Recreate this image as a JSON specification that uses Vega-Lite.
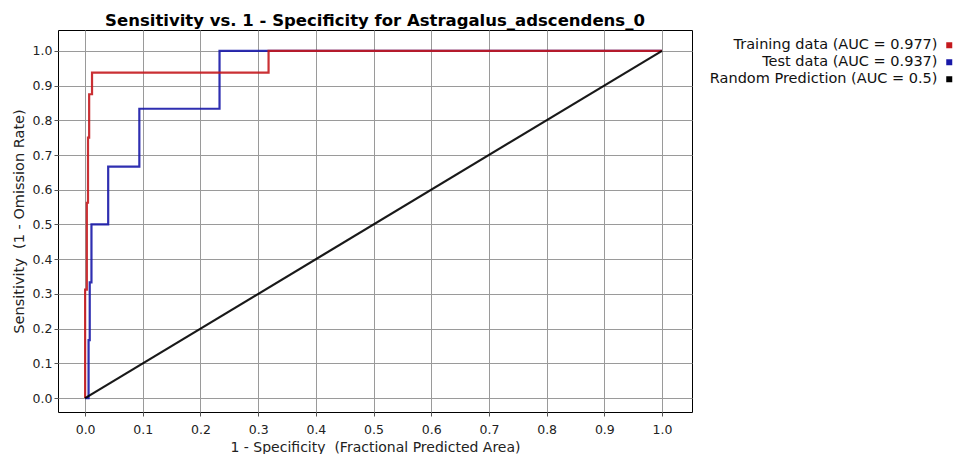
{
  "$schema": "https://vega.github.io/schema/vega-lite/v6.json",
  "width": 634,
  "height": 382,
  "autosize": {"type": "none"},
  "padding": {"left": 58, "top": 30, "right": 270, "bottom": 42},
  "background": "white",
  "title": {
    "text": "Sensitivity vs. 1 - Specificity for Astragalus_adscendens_0",
    "font": "DejaVu Sans",
    "fontSize": 16.5,
    "fontWeight": "bold",
    "color": "#000000",
    "offset": 1,
    "anchor": "middle"
  },
  "config": {
    "view": {"stroke": "#000000", "strokeWidth": 1},
    "axis": {
      "labelFont": "DejaVu Sans",
      "titleFont": "DejaVu Sans",
      "labelFontSize": 12.5,
      "titleFontSize": 14,
      "labelColor": "#222222",
      "titleColor": "#222222",
      "titleFontWeight": "normal",
      "gridColor": "#9a9a9a",
      "gridOpacity": 1,
      "gridWidth": 1,
      "tickColor": "#555555",
      "tickSize": 4,
      "domain": false
    }
  },
  "data": {
    "values": [
      {"series": "Test data (AUC = 0.937)", "ord": 1, "x": 0, "y": 0},
      {"series": "Test data (AUC = 0.937)", "ord": 2, "x": 0.006, "y": 0},
      {"series": "Test data (AUC = 0.937)", "ord": 3, "x": 0.006, "y": 0.1667},
      {"series": "Test data (AUC = 0.937)", "ord": 4, "x": 0.008, "y": 0.1667},
      {"series": "Test data (AUC = 0.937)", "ord": 5, "x": 0.008, "y": 0.3333},
      {"series": "Test data (AUC = 0.937)", "ord": 6, "x": 0.011, "y": 0.3333},
      {"series": "Test data (AUC = 0.937)", "ord": 7, "x": 0.011, "y": 0.5},
      {"series": "Test data (AUC = 0.937)", "ord": 8, "x": 0.04, "y": 0.5},
      {"series": "Test data (AUC = 0.937)", "ord": 9, "x": 0.04, "y": 0.6667},
      {"series": "Test data (AUC = 0.937)", "ord": 10, "x": 0.094, "y": 0.6667},
      {"series": "Test data (AUC = 0.937)", "ord": 11, "x": 0.094, "y": 0.8333},
      {"series": "Test data (AUC = 0.937)", "ord": 12, "x": 0.233, "y": 0.8333},
      {"series": "Test data (AUC = 0.937)", "ord": 13, "x": 0.233, "y": 1},
      {"series": "Test data (AUC = 0.937)", "ord": 14, "x": 1, "y": 1},
      {"series": "Training data (AUC = 0.977)", "ord": 1, "x": 0, "y": 0},
      {"series": "Training data (AUC = 0.977)", "ord": 2, "x": 0, "y": 0.3125},
      {"series": "Training data (AUC = 0.977)", "ord": 3, "x": 0.003, "y": 0.3125},
      {"series": "Training data (AUC = 0.977)", "ord": 4, "x": 0.003, "y": 0.5625},
      {"series": "Training data (AUC = 0.977)", "ord": 5, "x": 0.005, "y": 0.5625},
      {"series": "Training data (AUC = 0.977)", "ord": 6, "x": 0.005, "y": 0.75},
      {"series": "Training data (AUC = 0.977)", "ord": 7, "x": 0.007, "y": 0.75},
      {"series": "Training data (AUC = 0.977)", "ord": 8, "x": 0.007, "y": 0.875},
      {"series": "Training data (AUC = 0.977)", "ord": 9, "x": 0.012, "y": 0.875},
      {"series": "Training data (AUC = 0.977)", "ord": 10, "x": 0.012, "y": 0.9375},
      {"series": "Training data (AUC = 0.977)", "ord": 11, "x": 0.318, "y": 0.9375},
      {"series": "Training data (AUC = 0.977)", "ord": 12, "x": 0.318, "y": 1},
      {"series": "Training data (AUC = 0.977)", "ord": 13, "x": 1, "y": 1},
      {"series": "Random Prediction (AUC = 0.5)", "ord": 1, "x": 0, "y": 0},
      {"series": "Random Prediction (AUC = 0.5)", "ord": 2, "x": 1, "y": 1}
    ]
  },
  "mark": {"type": "line", "strokeWidth": 2.2, "opacity": 0.9, "strokeJoin": "miter"},
  "encoding": {
    "x": {
      "field": "x",
      "type": "quantitative",
      "scale": {"domain": [-0.047, 1.052], "nice": false, "zero": false},
      "axis": {
        "values": [0, 0.1, 0.2, 0.3, 0.4, 0.5, 0.6, 0.7, 0.8, 0.9, 1.0],
        "format": ".1f",
        "title": "1 - Specificity \u00a0(Fractional Predicted Area)",
        "labelPadding": 7,
        "titlePadding": 5
      }
    },
    "y": {
      "field": "y",
      "type": "quantitative",
      "scale": {"domain": [-0.04, 1.06], "nice": false, "zero": false},
      "axis": {
        "values": [0, 0.1, 0.2, 0.3, 0.4, 0.5, 0.6, 0.7, 0.8, 0.9, 1.0],
        "format": ".1f",
        "title": "Sensitivity \u00a0(1 - Omission Rate)",
        "titleFontSize": 14.5,
        "labelPadding": 2,
        "titlePadding": 6
      }
    },
    "order": {"field": "ord", "type": "quantitative"},
    "color": {
      "field": "series",
      "type": "nominal",
      "scale": {
        "domain": ["Training data (AUC = 0.977)", "Test data (AUC = 0.937)", "Random Prediction (AUC = 0.5)"],
        "range": ["#c41a1e", "#1818a8", "#000000"]
      },
      "legend": {
        "title": null,
        "orient": "none",
        "legendX": 636,
        "legendY": 8,
        "symbolType": "square",
        "symbolSize": 16,
        "symbolStrokeWidth": 2,
        "symbolOpacity": 1,
        "symbolOffset": 248,
        "labelAlign": "right",
        "labelOffset": -19,
        "labelFont": "DejaVu Sans",
        "labelFontSize": 14.5,
        "labelColor": "#111111",
        "labelLimit": 300,
        "rowPadding": 2,
        "encode": {
          "symbols": {
            "update": {"fill": {"scale": "color", "field": "value"}}
          }
        }
      }
    },
    "detail": {"field": "series"}
  }
}
